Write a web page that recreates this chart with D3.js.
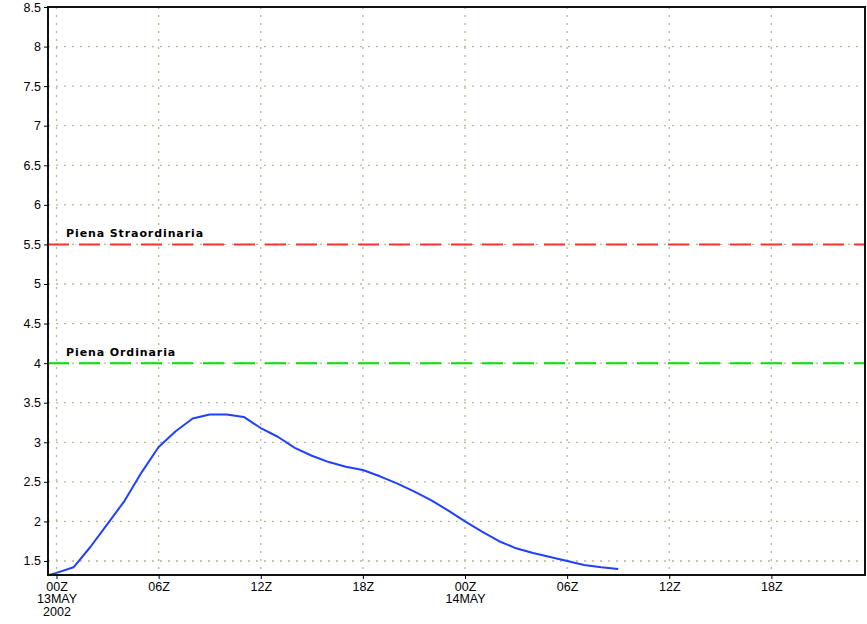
<!DOCTYPE html>
<html>
<head>
<meta charset="utf-8">
<script src="https://cdn.jsdelivr.net/npm/d3@7"></script>
<style>
  body { margin: 0; background: #fff; }
  svg { display: block; }
</style>
</head>
<body>
<div id="chart"></div>
<script>
// hours since 00Z 13MAY2002
const hours = [-0.5, 0, 1, 2, 3, 4, 5, 6, 7, 8, 9, 10, 11, 12, 13, 14, 15, 16,
  17, 18, 19, 20, 21, 22, 23, 24, 25, 26, 27, 28, 29, 30, 31, 32, 33];
const level = [1.32, 1.35, 1.42, 1.68, 1.97, 2.26, 2.62, 2.94, 3.14, 3.30, 3.35,
  3.35, 3.32, 3.18, 3.07, 2.93, 2.83, 2.75, 2.69, 2.65, 2.57, 2.48, 2.38, 2.27,
  2.14, 2.00, 1.87, 1.75, 1.66, 1.60, 1.55, 1.50, 1.45, 1.42, 1.40];

const yTicks = [1.5, 2, 2.5, 3, 3.5, 4, 4.5, 5, 5.5, 6, 6.5, 7, 7.5, 8, 8.5];
const xTicks = [0, 6, 12, 18, 24, 30, 36, 42];
const xTickLabels = [["00Z", "13MAY", "2002"], ["06Z"], ["12Z"], ["18Z"],
  ["00Z", "14MAY"], ["06Z"], ["12Z"], ["18Z"]];

const thresholds = [
  { name: "Piena Straordinaria", value: 5.5, color: "#ff3030" },
  { name: "Piena Ordinaria", value: 4.0, color: "#00e000" },
];

const dimensions = {
  width: 867,
  height: 624,
  margin: { top: 7, right: 2, bottom: 49, left: 48 },
};
dimensions.boundedWidth =
  dimensions.width - dimensions.margin.left - dimensions.margin.right;
dimensions.boundedHeight =
  dimensions.height - dimensions.margin.top - dimensions.margin.bottom;

const chart = d3
  .select("#chart")
  .append("svg")
  .attr("width", dimensions.width)
  .attr("height", dimensions.height);

const bounds = chart
  .append("g")
  .attr("transform", `translate(${dimensions.margin.left},${dimensions.margin.top})`);

const xScale = d3
  .scaleLinear()
  .domain([-0.5, 47.5])
  .range([0, dimensions.boundedWidth]);
const yScale = d3
  .scaleLinear()
  .domain([1.323, 8.5])
  .range([dimensions.boundedHeight, 0]);

// grid
const gridColor = "#b8b890";
bounds
  .append("g")
  .selectAll("line")
  .data(yTicks)
  .join("line")
  .attr("x1", 0)
  .attr("x2", dimensions.boundedWidth)
  .attr("y1", (d) => yScale(d))
  .attr("y2", (d) => yScale(d))
  .attr("stroke", gridColor)
  .attr("stroke-width", 1.3)
  .attr("stroke-dasharray", "2,6");

bounds
  .append("g")
  .selectAll("line")
  .data(xTicks)
  .join("line")
  .attr("x1", (d) => xScale(d))
  .attr("x2", (d) => xScale(d))
  .attr("y1", 0)
  .attr("y2", dimensions.boundedHeight)
  .attr("stroke", gridColor)
  .attr("stroke-width", 1.3)
  .attr("stroke-dasharray", "2,6");

// threshold lines
thresholds.forEach((t) => {
  bounds
    .append("line")
    .attr("x1", 0)
    .attr("x2", dimensions.boundedWidth)
    .attr("y1", yScale(t.value))
    .attr("y2", yScale(t.value))
    .attr("stroke", t.color)
    .attr("stroke-width", 2)
    .attr("stroke-dasharray", "21,10");
  bounds
    .append("text")
    .attr("x", 18)
    .attr("y", yScale(t.value) - 7)
    .attr("font-family", "DejaVu Sans, sans-serif")
    .attr("font-size", "11px")
    .attr("font-weight", "bold")
    .attr("letter-spacing", "0.9px")
    .attr("fill", "#000")
    .text(t.name);
});

// series
const line = d3
  .line()
  .x((d, i) => xScale(hours[i]))
  .y((d) => yScale(d));

bounds
  .append("path")
  .datum(level)
  .attr("d", line)
  .attr("fill", "none")
  .attr("stroke", "#2040ff")
  .attr("stroke-width", 2)
  .attr("stroke-linejoin", "round");

// frame
bounds
  .append("rect")
  .attr("x", 0)
  .attr("y", 0)
  .attr("width", dimensions.boundedWidth)
  .attr("height", dimensions.boundedHeight)
  .attr("fill", "none")
  .attr("stroke", "#111")
  .attr("stroke-width", 2);

// axes
const yAxisGenerator = d3
  .axisLeft(yScale)
  .tickValues(yTicks)
  .tickSize(4)
  .tickPadding(3)
  .tickFormat((d) => d);
const yAxis = bounds.append("g").call(yAxisGenerator);
yAxis.select(".domain").remove();
yAxis
  .selectAll("text")
  .attr("font-family", "Liberation Sans, Arial, sans-serif")
  .attr("font-size", "12.5px")
  .attr("fill", "#000");

const xAxisGenerator = d3
  .axisBottom(xScale)
  .tickValues(xTicks)
  .tickSize(4)
  .tickFormat("");
const xAxis = bounds
  .append("g")
  .attr("transform", `translate(0,${dimensions.boundedHeight})`)
  .call(xAxisGenerator);
xAxis.select(".domain").remove();

xAxis
  .selectAll(".tick")
  .each(function (d, i) {
    const lines = xTickLabels[i];
    d3.select(this)
      .selectAll("text.lbl")
      .data(lines)
      .join("text")
      .attr("class", "lbl")
      .attr("x", 0)
      .attr("y", (l, j) => 15.5 + j * 12.5)
      .attr("text-anchor", "middle")
      .attr("font-family", "Liberation Sans, Arial, sans-serif")
      .attr("font-size", "12.5px")
      .attr("fill", "#000")
      .text((l) => l);
  });
</script>
</body>
</html>
